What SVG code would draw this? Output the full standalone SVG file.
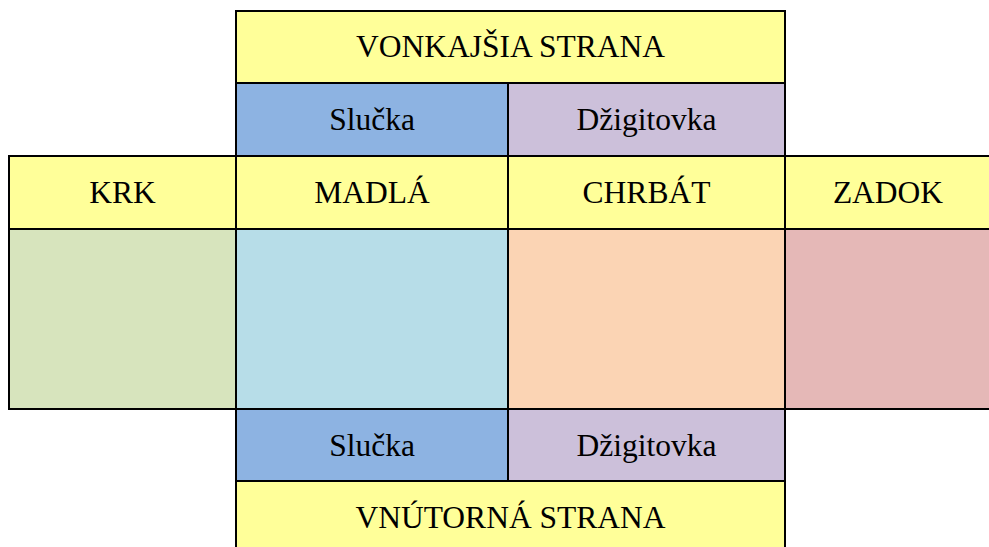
<svg xmlns="http://www.w3.org/2000/svg" width="989" height="547" viewBox="0 0 989 547">
<style>
  .cell { stroke: #000; stroke-width: 2; }
  .yellow { fill: #FFFF99; }
  .blue { fill: #8DB3E2; }
  .purple { fill: #CCC0DA; }
  .green { fill: #D7E4BD; }
  .lblue { fill: #B7DDE8; }
  .peach { fill: #FBD4B4; }
  .pink { fill: #E5B8B7; }
  text { font-family: "Liberation Serif", "Times New Roman", serif; font-size: 31.5px; fill: #000; text-anchor: middle; }
</style>
<rect width="989" height="547" fill="#fff"/>
<g id="vonkajsia-strana">
  <rect class="cell yellow" x="236" y="11" width="549" height="72"/>
  <text x="510.5" y="57">VONKAJŠIA STRANA</text>
</g>
<g id="slucka-top">
  <rect class="cell blue" x="236" y="83" width="272" height="73"/>
  <text x="372" y="130">Slučka</text>
</g>
<g id="dzigitovka-top">
  <rect class="cell purple" x="508" y="83" width="277" height="73"/>
  <text x="646.5" y="130">Džigitovka</text>
</g>
<g id="krk">
  <rect class="cell yellow" x="9" y="156" width="227" height="73"/>
  <text x="122.5" y="203">KRK</text>
</g>
<g id="madla">
  <rect class="cell yellow" x="236" y="156" width="272" height="73"/>
  <text x="372" y="203">MADLÁ</text>
</g>
<g id="chrbat">
  <rect class="cell yellow" x="508" y="156" width="277" height="73"/>
  <text x="646.5" y="203">CHRBÁT</text>
</g>
<g id="zadok">
  <rect class="cell yellow" x="785" y="156" width="206" height="73"/>
  <text x="888" y="203">ZADOK</text>
</g>
<g id="krk-area">
  <rect class="cell green" x="9" y="229" width="227" height="180"/>
</g>
<g id="madla-area">
  <rect class="cell lblue" x="236" y="229" width="272" height="180"/>
</g>
<g id="chrbat-area">
  <rect class="cell peach" x="508" y="229" width="277" height="180"/>
</g>
<g id="zadok-area">
  <rect class="cell pink" x="785" y="229" width="206" height="180"/>
</g>
<g id="slucka-bottom">
  <rect class="cell blue" x="236" y="409" width="272" height="72"/>
  <text x="372" y="455.5">Slučka</text>
</g>
<g id="dzigitovka-bottom">
  <rect class="cell purple" x="508" y="409" width="277" height="72"/>
  <text x="646.5" y="455.5">Džigitovka</text>
</g>
<g id="vnutorna-strana">
  <rect class="cell yellow" x="236" y="481" width="549" height="80"/>
  <text x="510.5" y="528">VNÚTORNÁ STRANA</text>
</g>
<g id="connectors"></g>
</svg>
